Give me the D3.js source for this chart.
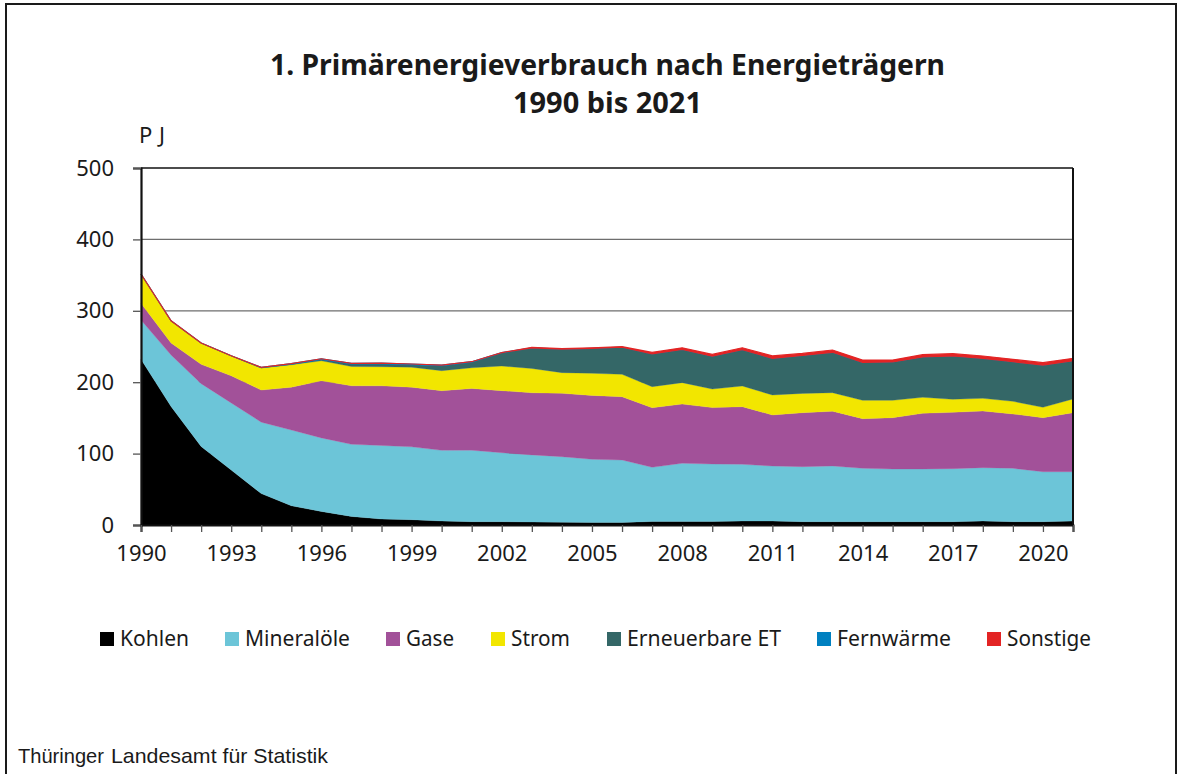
<!DOCTYPE html>
<html><head><meta charset="utf-8">
<script src="https://cdn.jsdelivr.net/npm/d3@7"></script>
<style>
html,body{margin:0;padding:0;background:#fff;}
svg text{font-family:"Noto Sans",sans-serif;fill:#1a1a1a;}
</style></head>
<body>
<svg id="chart" width="1180" height="774"></svg>
<script>
const years = d3.range(1990, 2022);
const seriesNames = ["Kohlen","Mineralöle","Gase","Strom","Erneuerbare ET","Fernwärme","Sonstige"];
const colors = ["#000000","#6cc5d8","#a25199","#f2e600","#346767","#0080c0","#e32424"];
const kohlen      = [232,166,110,77,44,27,19,12,8.4,7.5,5.6,4.7,4.7,4.2,4,3.5,3.5,5,5,5,5.6,5.6,4.7,4.7,4.7,4.7,4.7,4.7,5.6,4.7,4.7,5.6];
const mineraloele = [55,72,88,94,100,106,103,101,103,102,99,100,96.5,94,91.7,88.5,87.5,75.8,81.4,80.4,79.4,77,77,78,74.7,73.7,73.7,74.2,74.7,74.7,69.9,69];
const gase        = [23.5,17,27,38,45,60,80,82,83.5,83.5,83.5,86.5,87,87,88.7,89.5,88.7,83.5,83,79,80.7,71.5,75.6,76.6,69.5,71.9,78,78.9,79.4,76.1,75.7,82.7];
const strom       = [41,31,30,28,31,31.5,28,27,26.8,28,28,29,34.5,34,29,31,31.3,29.4,30,26,29,28,27,26,25.7,24.3,22.4,18.2,17.7,17.7,14.5,19.2];
const erneuerbare = [0,0,0,0,0.3,0.8,2,3.5,4,3.5,7,8,18.5,29,33,35,38,46,46.5,46,51,51.4,53.2,56.6,53.2,53.7,56.5,60.7,56,55.5,59.2,53.5];
const fernwaerme  = [0,0,0,0,0.4,0.6,0.8,1,1,1,0.8,0.5,0.3,0,0,0,0,0,0,0,0,0,0,0,0,0,0,0,0,0,0,0];
const sonstige    = [0,0,0,0,0,0,0,0,0,0,0,0,0,0.5,0.6,0.6,0.7,2,2.2,2.5,2.5,3.3,2.8,3.2,3.2,2.7,3.2,3.3,3.3,3.3,3.3,3.4];
const yTicks = [0,100,200,300,400,500];
const xLabelYears = [1990,1993,1996,1999,2002,2005,2008,2011,2014,2017,2020];

const seriesValues = [kohlen,mineraloele,gase,strom,erneuerbare,fernwaerme,sonstige];
const rows = years.map((y,i)=>{const r={year:y}; seriesNames.forEach((n,k)=>r[n]=seriesValues[k][i]); return r;});

const svg = d3.select("#chart");
// outer frame
svg.append("rect").attr("x",6).attr("y",4).attr("width",1170).attr("height",800)
  .attr("fill","none").attr("stroke","#1a1a1a").attr("stroke-width",2);

const L=141, R=1073, T=168, B=525;
const x = d3.scaleLinear().domain([1990,2021]).range([L,R]);
const y = d3.scaleLinear().domain([0,500]).range([B,T]);

// grid
svg.append("g").selectAll("line").data(yTicks.filter(d=>d>0&&d<500)).join("line")
  .attr("x1",L).attr("x2",R).attr("y1",d=>y(d)).attr("y2",d=>y(d))
  .attr("stroke","#6e6e6e").attr("stroke-width",1.3);

const stack = d3.stack().keys(seriesNames);
const layers = stack(rows);
const area = d3.area().x(d=>x(d.data.year)).y0(d=>y(d[0])).y1(d=>y(d[1]));
svg.append("g").selectAll("path").data(layers).join("path")
  .attr("d",area).attr("fill",(d,i)=>colors[i])
  .attr("stroke",(d,i)=>colors[i]).attr("stroke-width",(d,i)=> i>=5 ? 1.2 : 0.3);

// frame of plot
svg.append("line").attr("x1",L).attr("x2",R).attr("y1",T).attr("y2",T).attr("stroke","#111").attr("stroke-width",1.5);
svg.append("line").attr("x1",R).attr("x2",R).attr("y1",T).attr("y2",B).attr("stroke","#111").attr("stroke-width",2);

// axes
const yAxis = d3.axisLeft(y).tickValues(yTicks).tickSize(8).tickPadding(19).tickFormat(d3.format("d"));
const gy = svg.append("g").attr("transform",`translate(${L},0)`).call(yAxis);
gy.select(".domain").attr("stroke","#111").attr("stroke-width",2.2);
gy.selectAll(".tick line").attr("stroke","#555").attr("stroke-width",1.3);
gy.selectAll("text").style("font-size","22px").attr("fill","#1a1a1a").style("font-family","'Noto Sans',sans-serif");

const xAxis = d3.axisBottom(x).tickValues(years).tickSize(7).tickPadding(13)
  .tickFormat(d=>xLabelYears.includes(d)?String(d):"");
const gx = svg.append("g").attr("transform",`translate(0,${B})`).call(xAxis);
gx.select(".domain").attr("stroke","#111").attr("stroke-width",2);
gx.selectAll(".tick line").attr("stroke","#555").attr("stroke-width",1.3);
gx.selectAll("text").style("font-size","22px").attr("fill","#1a1a1a").style("font-family","'Noto Sans',sans-serif");

// unit
svg.append("text").attr("x",139).attr("y",143).style("font-size","22px")
  .attr("textLength",26).attr("lengthAdjust","spacing").text("PJ");

// title
svg.append("text").attr("x",607.5).attr("y",75).attr("text-anchor","middle")
  .attr("textLength",675).attr("lengthAdjust","spacingAndGlyphs")
  .style("font-size","28px").style("font-weight","bold").text("1. Primärenergieverbrauch nach Energieträgern");
svg.append("text").attr("x",607.5).attr("y",113).attr("text-anchor","middle")
  .attr("textLength",189).attr("lengthAdjust","spacingAndGlyphs")
  .style("font-size","28px").style("font-weight","bold").text("1990 bis 2021");

// legend (layout constants)
const legendX = [100,225,386,491,607,817,987];
const legendW = [69,105,48,59,154,114,84];
const lg = svg.append("g").selectAll("g").data(seriesNames).join("g")
  .attr("transform",(d,i)=>`translate(${legendX[i]},632)`);
lg.append("rect").attr("width",14).attr("height",14).attr("fill",(d,i)=>colors[i]);
lg.append("text").attr("x",20).attr("y",14).style("font-size","22px")
  .attr("textLength",(d,i)=>legendW[i]).attr("lengthAdjust","spacingAndGlyphs").text(d=>d);

// footer
svg.append("text").attr("x",18).attr("y",763).style("font-family","'Liberation Sans',Arial,sans-serif")
  .style("font-size","20px").attr("fill","#333").attr("textLength",86).attr("lengthAdjust","spacingAndGlyphs").text("Thüringer");
svg.append("text").attr("x",111).attr("y",763).style("font-family","'Liberation Sans',Arial,sans-serif")
  .style("font-size","21px").attr("fill","#111").attr("textLength",217).attr("lengthAdjust","spacingAndGlyphs").text("Landesamt für Statistik");
</script>
</body></html>
